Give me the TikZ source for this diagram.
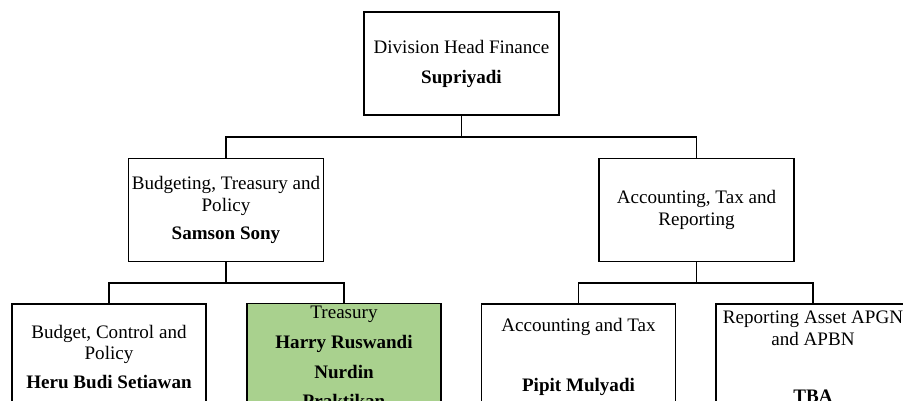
\documentclass[tikz,border=0pt]{standalone}
\usepackage{fontspec}
\setmainfont{Liberation Serif}
\usetikzlibrary{positioning}

\definecolor{treasurygreen}{HTML}{A9D18E}

\tikzset{
  unit/.style={draw, line width=1.1pt, align=center, inner sep=2pt,
    font=\fontsize{14.3}{16.3}\selectfont},
  headunit/.style={unit, minimum width=146pt, minimum height=77.5pt},
  subunit/.style={unit, minimum width=145.5pt, minimum height=79.5pt},
  link/.style={line width=1.1pt},
}

\begin{document}
\begin{tikzpicture}[x=0.75pt,y=-0.75pt]
% Canvas in px (903 x 400), y runs downward
\clip (0,0) rectangle (903,400);

% Division head
\node[headunit] (head) at (461.5,63.5) {Division Head Finance\\[6.2pt]\textbf{Supriyadi}};

% Departments
\node[headunit] (bto) at (226,210) {Budgeting, Treasury and\\Policy\\[4.7pt]\textbf{Samson Sony}};
\node[headunit] (atr) at (696.5,210) {Accounting, Tax and\\Reporting};

% Sections
\node[subunit] (bcp) at (109,357) {Budget, Control and\\Policy\\[5.5pt]\textbf{Heru Budi Setiawan}};
\node[subunit, fill=treasurygreen] (trs) at (344,357) {Treasury\\[6pt]\textbf{Harry Ruswandi}\\[6pt]\textbf{Nurdin}\\[6pt]\textbf{Praktikan}};
\node[subunit] (act) at (578.5,357) {Accounting and Tax\\[28.7pt]\textbf{Pipit Mulyadi}};
\node[subunit] (rep) at (813,357) {Reporting Asset APGN\\and APBN\\[26.5pt]\textbf{TBA}};

% Connectors
\coordinate (bus0) at (461.5,137);
\coordinate (bus1) at (226,283);
\coordinate (bus2) at (696.5,283);
\draw[link] (head.south) -- (bus0);
\draw[link] (bto.north) |- (bus0) -| (atr.north);
\draw[link] (bto.south) -- (bus1);
\draw[link] (bcp.north) |- (bus1) -| (trs.north);
\draw[link] (atr.south) -- (bus2);
\draw[link] (act.north) |- (bus2) -| (rep.north);
\end{tikzpicture}
\end{document}
